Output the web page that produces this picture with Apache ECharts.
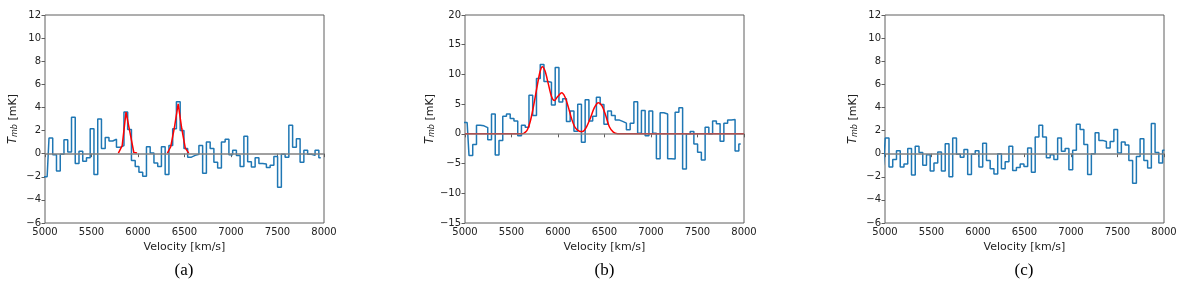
<!DOCTYPE html>
<html>
<head>
<meta charset="utf-8">
<script src="https://cdn.jsdelivr.net/npm/echarts@6/dist/echarts.min.js"></script>
<style>
html,body{margin:0;padding:0;background:#fff;}
#chart{width:1200px;height:287px;}
</style>
</head>
<body>
<div id="chart"></div>
<script>
// channel centres (km/s)
const velocity = [4983,5023,5063,5103,5144,5184,5224,5265,5305,5345,5386,5426,5466,5506,5547,5587,5627,5668,5708,5748,5789,5829,5869,5909,5950,5990,6030,6071,6111,6151,6192,6232,6272,6312,6353,6393,6433,6474,6514,6554,6595,6635,6675,6715,6756,6796,6836,6877,6917,6957,6998,7038,7078,7118,7159,7199,7239,7280,7320,7360,7401,7441,7481,7521,7562,7602,7642,7683,7723,7763,7804,7844,7884,7924,7965,8005];

// panel (a) spectrum, mK
const specA = [-2.0,-2.0,1.35,-0.1,-1.5,-0.05,1.2,0.15,3.15,-0.85,0.2,-0.65,-0.35,2.15,-1.8,3.0,0.45,1.4,1.1,1.25,0.55,0.7,3.6,2.1,-0.6,-1.1,-1.6,-1.95,0.6,0.05,-0.8,-1.1,0.6,-1.8,0.7,2.15,4.5,2.0,0.45,-0.3,-0.15,-0.05,0.7,-1.7,1.0,0.45,-0.75,-1.25,1.0,1.25,-0.1,0.3,-0.15,-1.1,1.5,-0.7,-1.15,-0.35,-0.85,-0.9,-1.2,-1.0,-0.25,-2.9,-0.05,-0.3,2.45,0.55,1.3,-0.75,0.3,-0.05,-0.15,0.3,-0.35];

// panel (b) spectrum, mK
const specB = [1.9,1.9,-3.65,-1.8,1.45,1.35,1.05,-1.0,3.35,-3.55,-1.1,2.95,3.35,2.6,2.15,-0.3,1.45,1.1,6.5,3.1,9.3,11.65,8.8,8.7,4.85,11.15,5.35,5.9,2.1,3.85,0.45,5.0,-1.4,5.75,2.15,2.95,6.15,4.95,1.6,3.85,3.1,2.35,2.1,1.8,0.7,1.8,5.4,0.1,3.95,-0.3,3.85,0.1,-4.2,3.55,3.35,-4.2,-4.25,3.65,4.4,-5.9,0.0,0.4,-1.7,-3.1,-4.4,1.1,0.0,2.15,1.7,-1.25,1.8,2.35,2.4,-2.9,-1.7];

// panel (c) spectrum, mK
const specC = [-1.0,1.35,-1.15,-0.5,0.25,-1.15,-0.9,0.45,-1.85,0.65,0.1,-1.0,-0.1,-1.5,-0.8,0.15,-1.5,0.85,-2.0,1.35,-0.05,-0.3,0.35,-1.8,-0.05,0.25,-1.15,0.9,-0.6,-1.3,-1.75,0.0,-1.3,-0.7,0.65,-1.45,-1.2,-0.9,-1.1,0.5,-1.6,1.45,2.45,1.45,-0.35,-0.1,-0.5,1.35,0.2,0.45,-1.4,0.3,2.55,2.1,0.8,-1.8,0.0,1.8,1.15,1.05,0.5,1.05,2.1,0.05,1.0,0.75,-0.6,-2.55,-0.25,1.3,-0.6,-1.25,2.6,0.1,-0.8,0.3];

// Gaussian fits
const fitAVel = [5789,5830,5871,5912,5955,5990,null,6316,6352,6390,6432,6470,6508,6545];
const fitAVal = [0.05,0.7,3.6,1.9,0.1,0.05,null,0.05,0.6,2.2,4.3,2.2,0.5,0.05];
const fitBVel = [5000,5600,5663,5700,5735,5771,5806,5832,5860,5896,5932,5961,5993,6039,6075,6111,6147,6183,6229,6265,6301,6344,6391,6434,6470,6513,6552,6595,6640,6700,8000];
const fitBVal = [0,0,0.5,2.0,4.5,7.6,10.4,11.3,10.6,8.4,6.2,5.6,6.2,6.9,6.2,4.5,2.5,1.1,0.45,0.4,1.0,2.5,4.4,5.25,4.8,3.1,1.2,0.3,0.02,0,0];

// axes
const xTicks = {min:5000, max:8000, step:500};
const yTicksAC = {min:-6, max:12, step:2};
const yTicksB = {min:-15, max:20, step:5};
const panelLabels = ['(a)','(b)','(c)'];

const pairs = (xs, ys) => xs.map((x,i) => (x === null ? [null,null] : [x, ys[i]]));
const stepData = spec => spec.map((v,i) => [velocity[i], v]);

const lefts = [45,465,885], W = 279, TOP = 15, H = 208;
const axisCol = '#5e5e5e', textCol = '#222';
const fontFam = 'DejaVu Sans';

const grids = lefts.map(l => ({left:l, top:TOP, width:W, height:H, show:true, borderColor:axisCol, borderWidth:1, backgroundColor:'transparent'}));

const xAxes = lefts.map((l,i) => ({
  type:'value', gridIndex:i, min:xTicks.min, max:xTicks.max, interval:xTicks.step,
  name:'Velocity [km/s]', nameLocation:'middle', nameGap:17,
  nameTextStyle:{fontFamily:fontFam, fontSize:11, color:textCol},
  axisLine:{show:false}, splitLine:{show:false},
  axisTick:{show:true, inside:false, length:3.5, lineStyle:{color:axisCol}},
  axisLabel:{fontFamily:fontFam, fontSize:10, color:textCol, margin:4, formatter:v=>String(v)}
}));

const yAxes = lefts.map((l,i) => {
  const t = i === 1 ? yTicksB : yTicksAC;
  return {
    type:'value', gridIndex:i, min:t.min, max:t.max, interval:t.step,
    name:'{i|T}{s|mb} [mK]', nameLocation:'middle', nameGap:26, nameRotate:90,
    nameTextStyle:{fontFamily:fontFam, fontSize:11, color:textCol,
      rich:{i:{fontFamily:fontFam, fontStyle:'italic', fontSize:11.5, color:textCol},
            s:{fontFamily:fontFam, fontStyle:'italic', fontSize:8, color:textCol, verticalAlign:'bottom', lineHeight:9}}},
    axisLine:{show:false}, splitLine:{show:false},
    axisTick:{show:true, inside:false, length:3.5, lineStyle:{color:axisCol}},
    axisLabel:{fontFamily:fontFam, fontSize:10, color:textCol, margin:4, formatter:v=>String(v).replace('-', '\u2212')}
  };
});

const zeroLine = (opacity) => ({silent:true, symbol:'none', label:{show:false}, z:20,
  lineStyle:{color:'#808080', width:1.5, type:'solid', opacity:opacity}, data:[{yAxis:0}], animation:false});

const specs = [specA, specB, specC];
const series = [];
specs.forEach((s,i) => {
  series.push({type:'line', xAxisIndex:i, yAxisIndex:i, step:'middle', data:stepData(s),
    showSymbol:false, symbol:'none', lineStyle:{color:'#1f77b4', width:1.5}, z:3, animation:false, clip:true});
});
series.push({type:'line', xAxisIndex:0, yAxisIndex:0, data:pairs(fitAVel, fitAVal), showSymbol:false, symbol:'none',
  connectNulls:false, lineStyle:{color:'#ff0000', width:1.5}, z:4, animation:false});
series.push({type:'line', xAxisIndex:1, yAxisIndex:1, data:pairs(fitBVel, fitBVal), showSymbol:false, symbol:'none',
  smooth:0.3, lineStyle:{color:'#ff0000', width:1.5}, z:4, animation:false});
// zero lines (drawn on top)
[0,1,2].forEach(i => {
  series.push({type:'line', xAxisIndex:i, yAxisIndex:i, data:[], z:10, animation:false,
    markLine: zeroLine(i === 1 ? 0.85 : 1)});
});

const graphics = lefts.map((l,i) => ({type:'text', left:l + W/2 - 10, top:262,
  style:{text:panelLabels[i], font:'17px "Liberation Serif"', fill:'#000'}}));

const chart = echarts.init(document.getElementById('chart'), null, {renderer:'canvas'});
chart.setOption({
  animation:false,
  backgroundColor:'#fff',
  grid:grids, xAxis:xAxes, yAxis:yAxes, series:series, graphic:graphics
});
</script>
</body>
</html>
